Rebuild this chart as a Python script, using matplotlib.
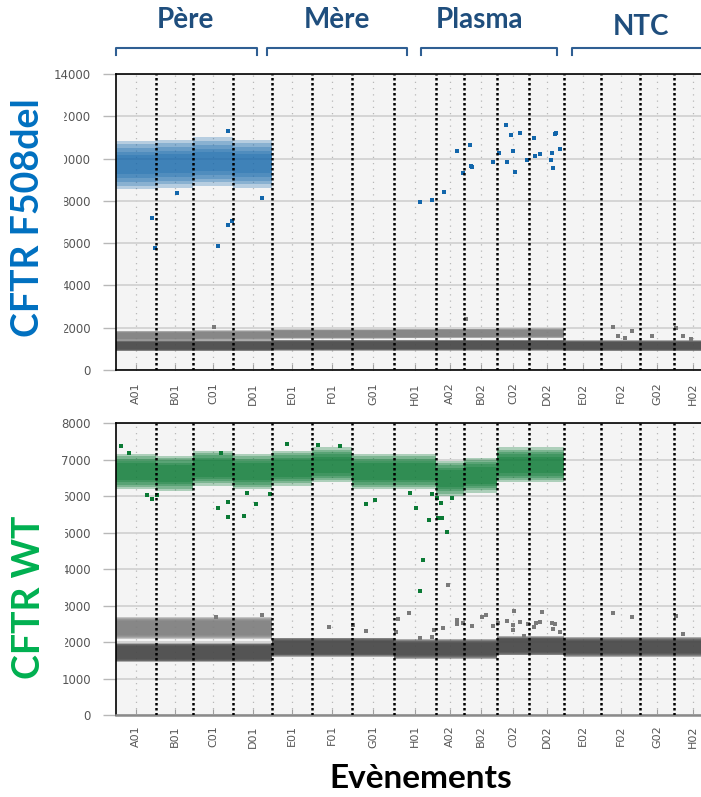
import matplotlib.pyplot as plt
from matplotlib.lines import Line2D
from matplotlib.patches import Rectangle
import numpy as np

nan = np.nan

# wells in plate order and droplet count per well (sets column widths)
wells = ['A01', 'B01', 'C01', 'D01', 'E01', 'F01', 'G01', 'H01',
         'A02', 'B02', 'C02', 'D02', 'E02', 'F02', 'G02', 'H02']
n_events = [15200, 14060, 15200, 14820, 15200, 15200, 15960, 15960,
            10640, 12540, 12160, 13300, 14060, 14820, 12920, 14440]

# cluster centres per well (amplitude), NaN = no cluster in that well
fam_pos = [9700, 9750, 9850, 9750] + [nan] * 12
fam_mid = [1620, 1620, 1640, 1640, 1700, 1700, 1700, 1720,
           1730, 1730, 1740, 1740] + [nan] * 4
fam_neg = [1150] * 4 + [1170] * 4 + [1180] * 4 + [1150] * 4
hex_pos = [6675, 6630, 6770, 6675, 6770, 6860, 6675, 6675,
           6490, 6580, 6860, 6860] + [nan] * 4
hex_mid = [2380] * 4 + [nan] * 12
hex_neg = [1720, 1720, 1720, 1720, 1860, 1860, 1860, 1810,
           1810, 1810, 1910, 1910, 1870, 1870, 1870, 1870]

# half-width of dense core / loose fringe for each cluster
fam_pos_spread = (450, 1150)
fam_mid_spread = (150, 230)
fam_neg_spread = (170, 260)
hex_pos_spread = (230, 480)
hex_mid_spread = (190, 300)
hex_neg_spread = (170, 270)

# isolated droplets (event index, amplitude)
fam_blue_x = [13570, 14820, 38760, 42670, 43970, 55370, 23070, 42670,
              115520, 119970, 124530, 129690, 131970, 134630, 134790, 135390,
              143370, 145540, 148090, 148580, 150210, 150970, 151730, 153630,
              156180, 158730, 159330, 161120, 165300, 165680, 166170, 166710,
              167200, 168610]
fam_blue_y = [7175, 5785, 5865, 6860, 7050, 8150, 8390, 11320,
              7960, 8060, 8420, 10370, 9300, 10640, 9650, 9600,
              9850, 10250, 11570, 9850, 11100, 10360, 9380, 11220,
              9930, 10990, 10140, 10200, 9930, 10250, 9540, 11160,
              11220, 10450]
fam_gray_x = [133000, 188970, 190760, 193310, 196080, 203790, 212800,
              215570, 218500, 37350]
fam_gray_y = [2400, 2020, 1590, 1530, 1830, 1590, 1970, 1610, 1450, 2050]
hex_green_x = [113890, 118940, 116770, 115520, 122250, 123770, 123600,
               125670, 121870, 119970, 127570, 111720, 1790, 5050, 13570,
               11890, 15470, 38870, 42670, 42500, 48750, 53090, 49670,
               58520, 94890, 98420, 64870, 76870, 85120, 39900]
hex_green_y = [5670, 5350, 4255, 3415, 5400, 5400, 5810, 5015, 5945, 6060,
               5945, 6080, 7390, 7195, 5920, 6035, 6035, 5670, 5440, 5850,
               5460, 5780, 6080, 6060, 5780, 5900, 7425, 7405, 7380, 7180]
hex_gray_x = [107270, 106290, 111340, 115520, 119970, 120840, 124370,
              126270, 129690, 129500, 131970, 135170, 139190, 140600,
              143370, 145270, 148470, 150750, 151130, 150970, 153520,
              155040, 156450, 158840, 159490, 161120, 161990, 165570,
              165950, 166820, 168720, 188970, 196080, 212800, 215570,
              55370, 37890, 81050, 90170, 95000]
hex_gray_y = [2640, 2275, 2810, 2110, 2155, 2340, 2385, 3570, 2610, 2495,
              2520, 2445, 2685, 2750, 2445, 2540, 2585, 2475, 2860, 2340,
              2565, 2175, 2495, 2410, 2540, 2555, 2830, 2520, 2355, 2495,
              2290, 2810, 2685, 2720, 2220, 2750, 2700, 2430, 2475, 2320]

groups = ['Père', 'Mère', 'Plasma', 'NTC']

edges = np.concatenate([[0], np.cumsum(n_events)])
starts = edges[:-1]
mids = starts + np.array(n_events) / 2

BLUE = '#1266ab'
GREEN = '#0b7a35'
HEAD = '#1f4e7d'

W, H = 701, 797
fig = plt.figure(figsize=(W / 100, H / 100), dpi=100)
ax1 = fig.add_axes([116 / W, 1 - 370 / H, 596 / W, 296 / H])
ax2 = fig.add_axes([116 / W, 1 - 715.3 / H, 596 / W, 292 / H])


def band(ax, centre, spread, color, alpha, layers=5):
    # stacked translucent bars: dense in the middle, thinning out to the fringe
    centre = np.asarray(centre, float)
    ok = ~np.isnan(centre)
    x = starts[ok]
    w = np.array(n_events)[ok]
    c = centre[ok]
    core, fringe = spread
    for half in np.linspace(fringe, core, layers):
        ax.bar(x, 2 * half, bottom=c - half, width=w, align='edge',
               color=color, alpha=alpha, lw=0, zorder=2)


def frame(ax, ymax, label_pad):
    ax.set_facecolor('#f4f4f4')
    ax.set_xlim(0, edges[-1])
    ax.set_ylim(0, ymax)
    ax.set_yticks(np.arange(0, ymax + 1, 1000 if ymax < 10000 else 2000))
    ax.set_xticks(mids, wells, rotation=90)
    ax.grid(axis='y', color='#d2d2d2', lw=1.3, zorder=1)
    ax.grid(axis='x', color='#b8b8b8', lw=0.9, ls=(0, (1, 4)), zorder=1)
    ax.set_axisbelow(True)
    for e in edges[1:-1]:
        ax.axvline(e, color='black', lw=1.8, ls=(0, (1, 1)), zorder=4)
    ax.tick_params(axis='y', length=9.5, width=1, color='#b8b8b8',
                   pad=8.5, labelsize=8.5, labelcolor='#555555')
    ax.tick_params(axis='x', direction='in', length=4.5, color='#a0a0a0',
                   pad=label_pad, labelsize=8, labelcolor='#555555')
    ax.spines['right'].set_visible(False)
    for s in ('left', 'top', 'bottom'):
        ax.spines[s].set_color('black')
        ax.spines[s].set_linewidth(1.2)


# FAM channel: F508del
frame(ax1, 14000, 9)
band(ax1, fam_neg, fam_neg_spread, '#4a4a4a', 0.42)
band(ax1, fam_mid, fam_mid_spread, '#7e7e7e', 0.4)
band(ax1, fam_pos, fam_pos_spread, BLUE, 0.27)
ax1.scatter(fam_blue_x, fam_blue_y, s=6, marker='s', color=BLUE, lw=0, zorder=3)
ax1.scatter(fam_gray_x, fam_gray_y, s=6, marker='s', color='#7a7a7a', lw=0, zorder=3)

# HEX channel: wild type
frame(ax2, 8000, 7)
ax2.spines['bottom'].set_color('#8a8a8a')
ax2.spines['bottom'].set_linewidth(1.8)
band(ax2, hex_neg, hex_neg_spread, '#4a4a4a', 0.42)
band(ax2, hex_mid, hex_mid_spread, '#7e7e7e', 0.4)
band(ax2, hex_pos, hex_pos_spread, GREEN, 0.3)
ax2.scatter(hex_green_x, hex_green_y, s=6, marker='s', color=GREEN, lw=0, zorder=3)
ax2.scatter(hex_gray_x, hex_gray_y, s=6, marker='s', color='#7a7a7a', lw=0, zorder=3)

# white panels behind the channel titles
fig.patches.append(Rectangle((0, 1 - 345 / H), 63 / W, 253 / H,
                             transform=fig.transFigure, color='white', zorder=2))
fig.patches.append(Rectangle((0, 1 - 662 / H), 64 / W, 182 / H,
                             transform=fig.transFigure, color='white', zorder=2))

fig.text(28 / W, 1 - 218 / H, 'CFTR F508del', rotation=90, ha='center',
         va='center', color='#0070c0', fontsize=27, fontweight='bold',
         family='Lato', zorder=5)
fig.text(29 / W, 1 - 597 / H, 'CFTR WT', rotation=90, ha='center',
         va='center', color='#00b050', fontsize=27, fontweight='bold',
         family='Lato', zorder=5)
fig.text(421 / W, 1 - 778 / H, 'Evènements', ha='center', va='center',
         color='black', fontsize=24, fontweight='bold', family='Lato')

# sample group headers with brackets
head_x = [185, 337, 480, 641]
head_y = [20, 20, 20, 27]
brackets = [(116, 257), (267, 407), (421, 557), (572, 712)]
for name, hx, hy, (b0, b1) in zip(groups, head_x, head_y, brackets):
    fig.text(hx / W, 1 - hy / H, name, ha='center', va='center', color=HEAD,
             fontsize=20, fontweight='bold', family='Lato')
    fig.add_artist(Line2D([b0 / W, b0 / W, b1 / W, b1 / W],
                          [1 - 55 / H, 1 - 48 / H, 1 - 48 / H, 1 - 55 / H],
                          color='#2f5f93', lw=1.5))

fig.savefig('out.png', dpi=100)
